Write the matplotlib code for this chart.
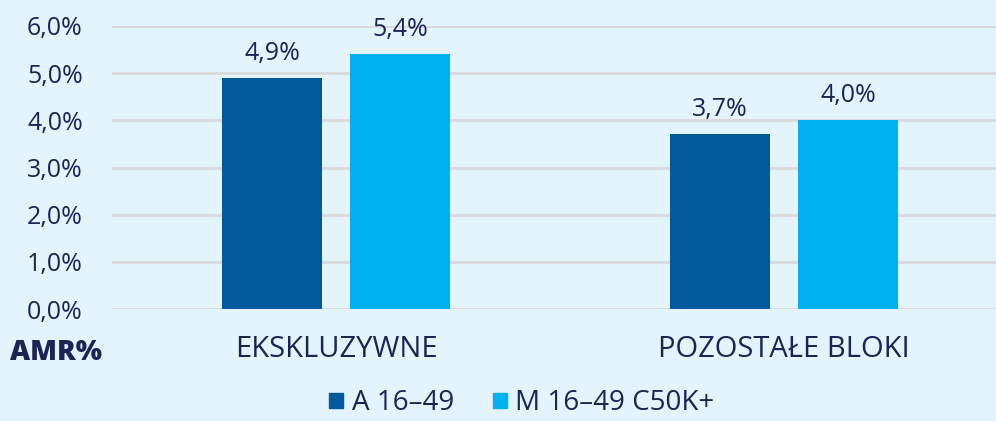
import numpy as np
import matplotlib.pyplot as plt
from matplotlib.patches import Patch

# dane
categories = ["EKSKLUZYWNE", "POZOSTAŁE BLOKI"]
series_names = ["A 16–49", "M 16–49 C50K+"]
a_vals = [4.9, 3.7]
m_vals = [5.4, 4.0]
yticks = [0, 1, 2, 3, 4, 5, 6]

bg = "#E4F4FC"
dark = "#005A9C"
light = "#00B0F0"
txt = "#1C2456"

plt.rcParams['font.family'] = ['Open Sans', 'DejaVu Sans']

fig = plt.figure(figsize=(9.96, 4.21), dpi=100, facecolor=bg)
ax = fig.add_axes([112 / 996, 112 / 421, 884 / 996, 283 / 421], facecolor=bg)

x = np.arange(len(categories))
w = 0.223
off = 0.143
b1 = ax.bar(x - off, a_vals, w, color=dark, zorder=3)
b2 = ax.bar(x + off, m_vals, w, color=light, zorder=3)

for bars, vals in [(b1, a_vals), (b2, m_vals)]:
    for b, v in zip(bars, vals):
        ax.text(b.get_x() + b.get_width() / 2, v + 0.26, f"{v:.1f}%".replace(".", ","),
                ha="center", va="bottom", fontsize=18, color=txt)

ax.set_xlim(-0.5, 1.473)
ax.set_ylim(0, 6)
ax.set_yticks(yticks)
ax.set_yticklabels([f"{t:.1f}%".replace(".", ",") for t in yticks], fontsize=18, color=txt)
ax.set_xticks(x)
ax.set_xticklabels(categories, fontsize=21, color=txt)
ax.tick_params(axis="both", length=0)
ax.tick_params(axis="y", pad=21)
ax.tick_params(axis="x", pad=19)
ax.grid(axis="y", color="#D9D9D9", linewidth=2, zorder=0)
for s in ax.spines.values():
    s.set_visible(False)

fig.text(10 / 996, 1 - 352 / 421, "AMR%", fontsize=20, fontweight="heavy", color=txt,
         va="center", ha="left")

handles = [Patch(color=dark), Patch(color=light)]
fig.legend(handles, series_names, loc="center", bbox_to_anchor=(0.524, 0.042),
           ncol=2, frameon=False, fontsize=20, labelcolor=txt, handlelength=0.5,
           handleheight=0.5, handletextpad=0.3, columnspacing=1.4, borderpad=0)

fig.savefig("out.png", dpi=100, facecolor=bg)
